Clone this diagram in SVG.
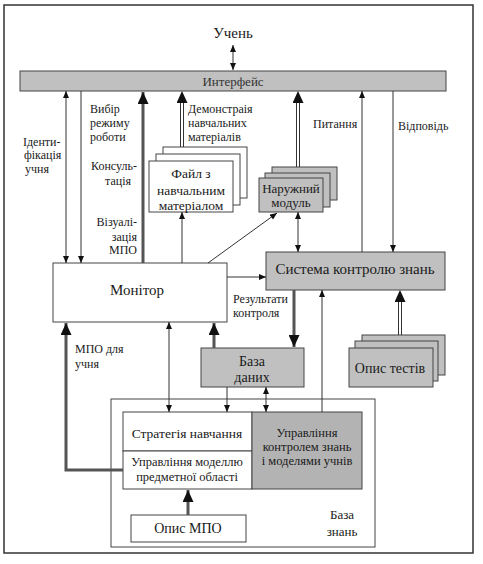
<svg xmlns="http://www.w3.org/2000/svg" width="483" height="564" viewBox="0 0 483 564" font-family="'Liberation Serif', 'Times New Roman', Times, serif">
<style>
text{font-family:'Liberation Serif','Times New Roman',Times,serif;fill:#1a1a1a}
.box{fill:#fff;stroke:#444;stroke-width:1}
.gray{fill:#c0c0c0;stroke:#444;stroke-width:1}
.dgray{fill:#b3b3b3;stroke:#444;stroke-width:1}
.ln{stroke:#333;stroke-width:1;fill:none}
.thick{stroke:#555;stroke-width:3;fill:none}
.dbl{stroke:#333;stroke-width:1;fill:none}
.lbl{font-size:12px}
.c{text-anchor:middle}
.r{text-anchor:end}
</style>
<defs>
<marker id="a" viewBox="0 0 7 6" refX="7" refY="3" markerWidth="8" markerHeight="6" markerUnits="userSpaceOnUse" orient="auto-start-reverse"><path d="M0,0 L7,3 L0,6 z" fill="#111"/></marker>
<marker id="A" viewBox="0 0 12 11" refX="12" refY="5.5" markerWidth="12" markerHeight="11" markerUnits="userSpaceOnUse" orient="auto-start-reverse"><path d="M0,0 L12,5.5 L0,11 z" fill="#111"/></marker>
</defs>
<rect x="4" y="5" width="469" height="548" fill="#fff" stroke="#333" stroke-width="1.5"/>

<g id="uchen"><text x="233" y="38" class="c" font-size="15">Учень</text></g>

<g id="interface">
<rect class="gray" x="20" y="71" width="426" height="20"/>
<text x="233" y="85.5" class="c" font-size="13" style="fill:#333">Интерфейс</text>
</g>

<g id="labels">
<text class="lbl" x="23" y="146">Іденти-</text>
<text class="lbl" x="24" y="159">фікація</text>
<text class="lbl" x="25" y="173">учня</text>
<text class="lbl" x="90" y="113">Вибір</text>
<text class="lbl" x="90" y="127">режиму</text>
<text class="lbl" x="90" y="141">роботи</text>
<text class="lbl c" x="114" y="170">Консуль-</text>
<text class="lbl c" x="118" y="185">тація</text>
<text class="lbl r" x="137" y="226">Візуалі-</text>
<text class="lbl r" x="137" y="241">зація</text>
<text class="lbl r" x="137" y="254">МПО</text>
<text class="lbl" x="188" y="113">Демонстраія</text>
<text class="lbl" x="188" y="127">навчальних</text>
<text class="lbl" x="188" y="141">матеріалів</text>
<text class="lbl" x="313" y="128">Питання</text>
<text class="lbl" x="398" y="130">Відповідь</text>
<text class="lbl" x="233" y="303">Результати</text>
<text class="lbl" x="233" y="317">контроля</text>
<text class="lbl" x="75" y="353">МПО для</text>
<text class="lbl" x="75" y="368">учня</text>
</g>

<g id="file">
<rect class="box" x="163" y="147" width="84" height="51"/>
<rect class="box" x="156" y="154" width="84" height="51"/>
<rect class="box" x="149" y="161" width="84" height="51"/>
<text x="191" y="178" class="c" font-size="13.5">Файл з</text>
<text x="191" y="195" class="c" font-size="13.5">навчальним</text>
<text x="191" y="210" class="c" font-size="13.5">матеріалом</text>
</g>

<g id="external">
<rect class="gray" x="272" y="167" width="65" height="33"/>
<rect class="gray" x="265" y="173" width="65" height="34"/>
<rect class="gray" x="259" y="178" width="64" height="34"/>
<text x="291" y="193" class="c" font-size="13">Наружний</text>
<text x="291" y="207" class="c" font-size="13">модуль</text>
</g>

<g id="control">
<rect class="gray" x="266" y="252" width="179" height="38"/>
<text x="355" y="274" class="c" font-size="15">Система контролю знань</text>
</g>

<g id="monitor">
<rect class="box" x="53" y="263" width="174" height="59"/>
<text x="137" y="295" class="c" font-size="15">Монітор</text>
</g>

<g id="database">
<rect class="gray" x="201" y="348" width="103" height="39"/>
<text x="252" y="366" class="c" font-size="14">База</text>
<text x="252" y="382" class="c" font-size="14">даних</text>
</g>

<g id="tests">
<rect class="gray" x="362" y="335" width="83" height="40"/>
<rect class="gray" x="355" y="341" width="83" height="40"/>
<rect class="gray" x="349" y="348" width="84" height="39"/>
<text x="390" y="373" class="c" font-size="14">Опис тестів</text>
</g>

<g id="knowledge">
<rect class="box" x="111" y="399" width="264" height="148"/>
<text x="342" y="519" class="c" font-size="13">База</text>
<text x="342" y="536" class="c" font-size="13">знань</text>
</g>

<g id="strategy">
<rect class="box" x="123" y="412" width="129" height="39"/>
<text x="187" y="438" class="c" font-size="13.5">Стратегія навчання</text>
</g>

<g id="domain">
<rect class="box" x="123" y="451" width="129" height="38"/>
<text x="187" y="466" class="c" font-size="12.5">Управління моделлю</text>
<text x="187" y="481" class="c" font-size="12.5">предметної області</text>
</g>

<g id="ctrlmgmt">
<rect class="dgray" x="252" y="412" width="110" height="77"/>
<text x="307" y="437" class="c" font-size="12.5">Управління</text>
<text x="307" y="451" class="c" font-size="12.5">контролем знань</text>
<text x="307" y="465" class="c" font-size="12.5">і моделями учнів</text>
</g>

<g id="mpo">
<rect class="box" x="131" y="515" width="115" height="27"/>
<text x="188" y="533" class="c" font-size="14">Опис МПО</text>
</g>

<g id="connectors">
<line class="ln" x1="233" y1="45" x2="233" y2="70" marker-start="url(#a)" marker-end="url(#a)"/>
<line class="ln" x1="66" y1="91" x2="66" y2="263" marker-start="url(#a)" marker-end="url(#a)"/>
<line class="ln" x1="81" y1="91" x2="81" y2="263" marker-end="url(#a)"/>
<line class="thick" x1="143" y1="263" x2="143" y2="92" marker-end="url(#A)"/>
<line class="dbl" x1="180.5" y1="147" x2="180.5" y2="102"/>
<line class="dbl" x1="183.5" y1="147" x2="183.5" y2="102"/>
<line stroke="none" x1="182" y1="147" x2="182" y2="91" marker-end="url(#A)"/>
<line class="ln" x1="182" y1="263" x2="182" y2="212" marker-end="url(#a)"/>
<line class="dbl" x1="296.5" y1="167" x2="296.5" y2="102"/>
<line class="dbl" x1="299.5" y1="167" x2="299.5" y2="102"/>
<line stroke="none" x1="298" y1="167" x2="298" y2="91" marker-end="url(#A)"/>
<line class="ln" x1="208" y1="263" x2="277" y2="213" marker-end="url(#a)"/>
<line class="ln" x1="298" y1="212" x2="298" y2="252" marker-start="url(#a)" marker-end="url(#a)"/>
<line class="ln" x1="362" y1="252" x2="362" y2="91" marker-end="url(#a)"/>
<line class="ln" x1="393" y1="91" x2="393" y2="252" marker-end="url(#a)"/>
<line class="ln" x1="227" y1="277" x2="266" y2="277" marker-end="url(#a)"/>
<line class="thick" x1="294" y1="290" x2="294" y2="347" marker-end="url(#A)"/>
<line class="thick" x1="214" y1="348" x2="214" y2="323" marker-end="url(#A)"/>
<line class="ln" x1="169" y1="322" x2="169" y2="412" marker-start="url(#a)" marker-end="url(#a)"/>
<line class="ln" x1="227" y1="387" x2="227" y2="412" marker-end="url(#a)"/>
<line class="ln" x1="266" y1="387" x2="266" y2="412" marker-start="url(#a)" marker-end="url(#a)"/>
<line class="ln" x1="322" y1="412" x2="322" y2="290" marker-end="url(#a)"/>
<line class="dbl" x1="398.5" y1="335" x2="398.5" y2="301"/>
<line class="dbl" x1="401.5" y1="335" x2="401.5" y2="301"/>
<line stroke="none" x1="400" y1="335" x2="400" y2="290" marker-end="url(#A)"/>
<path class="thick" d="M123,470 H66 V323" marker-end="url(#A)"/>
<line class="thick" x1="188" y1="515" x2="188" y2="490" marker-end="url(#A)"/>
</g>
</svg>
